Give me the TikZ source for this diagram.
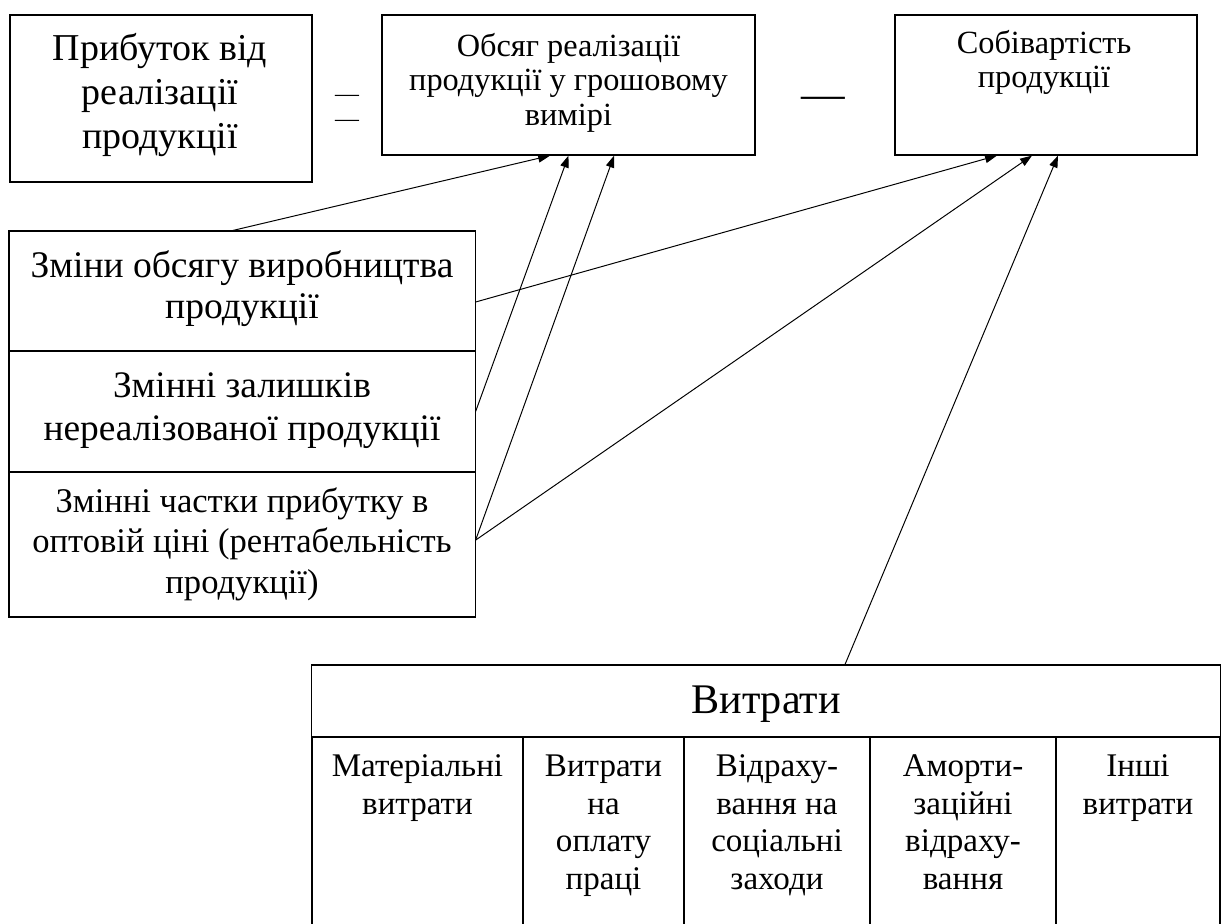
\documentclass[tikz,border=0pt]{standalone}
\usepackage{fontspec}
\setmainfont{Liberation Serif}
\usetikzlibrary{arrows.meta}

\begin{document}
\begin{tikzpicture}[x=0.025cm, y=-0.025cm,
    box/.style={draw, rectangle, line width=0.8pt, inner sep=0pt},
    napys/.style={align=center, inner sep=0pt, anchor=base},
    strilka/.style={-{Triangle[length=8.5pt, width=6pt]}, line width=0.7pt}]
\useasboundingbox (0,0) rectangle (1224,923);

% verkhnii riadok
\node (prybutok)[box, minimum width=7.55cm, minimum height=4.175cm] at (161,98.5) {};
\node (prybutoktext)[napys, font=\fontsize{27}{31}\selectfont] at (160,148) {Прибуток від\\реалізації\\продукції};
\node (rivnoverkh)[napys, font=\fontsize{17}{17}\selectfont] at (347,101.7) {—};
\node (rivnoniz)[napys, font=\fontsize{17}{17}\selectfont] at (347,126.7) {—};
\node (obsyah)[box, minimum width=9.325cm, minimum height=3.5cm] at (568.5,85) {};
\node (obsyahtext)[napys, font=\fontsize{23}{24.5}\selectfont] at (568.5,125) {Обсяг реалізації\\продукції у грошовому\\вимірі};
\node (minus)[napys, font=\fontsize{31}{31}\selectfont] at (823,108) {—};
\node (sobivart)[box, minimum width=7.55cm, minimum height=3.5cm] at (1046,85) {};
\node (sobivarttext)[napys, font=\fontsize{23}{23.5}\selectfont] at (1044,87) {Собівартість\\продукції};

% chynnyky
\node (rowone)[box, minimum width=11.65cm, minimum height=3cm] at (242,291) {};
\node (rowonetext)[napys, font=\fontsize{26.7}{29}\selectfont] at (242,318) {Зміни обсягу виробництва\\продукції};
\node (rowtwo)[box, minimum width=11.65cm, minimum height=3.025cm] at (242,411.5) {};
\node (rowtwotext)[napys, font=\fontsize{26.6}{30.5}\selectfont] at (242,440) {Змінні залишків\\нереалізованої продукції};
\node (rowthree)[box, minimum width=11.65cm, minimum height=3.625cm] at (242,544.5) {};
\node (rowthreetext)[napys, font=\fontsize{24.6}{28.5}\selectfont] at (242,593) {Змінні частки прибутку в\\оптовій ціні (рентабельність\\продукції)};

% vytraty
\node (vytraty)[box, minimum width=22.7cm, minimum height=1.8cm] at (766,701) {};
\node (vytratytext)[napys, font=\fontsize{30}{30}\selectfont] at (766,713) {Витрати};
\node (material)[box, minimum width=5.275cm, minimum height=5.325cm] at (417.5,843.5) {};
\node (oplata)[box, minimum width=4.025cm, minimum height=5.325cm] at (603.5,843.5) {};
\node (socialni)[box, minimum width=4.65cm, minimum height=5.325cm] at (777,843.5) {};
\node (amort)[box, minimum width=4.65cm, minimum height=5.325cm] at (963,843.5) {};
\node (inshi)[box, minimum width=4.1cm, minimum height=5.325cm] at (1138,843.5) {};
\node (materialtext)[napys, font=\fontsize{23.5}{26.7}\selectfont] at (417.5,814.5) {Матеріальні\\витрати};
\node (oplatatext)[napys, font=\fontsize{23.5}{26.7}\selectfont] at (603.5,889.5) {Витрати\\на\\оплату\\праці};
\node (socialnitext)[napys, font=\fontsize{23.5}{26.7}\selectfont] at (777,889.5) {Відраху-\\вання на\\соціальні\\заходи};
\node (amorttext)[napys, font=\fontsize{23.5}{26.7}\selectfont] at (963,889.5) {Аморти-\\заційні\\відраху-\\вання};
\node (inshitext)[napys, font=\fontsize{23.5}{26.7}\selectfont] at (1138,814.5) {Інші\\витрати};

\draw[strilka] ([xshift=-0.225cm]rowone.north) -- ([xshift=-0.46cm]obsyah.south);
\draw[strilka] (rowtwo.east) -- (obsyah.south);
\draw[strilka] ([yshift=0.11cm]rowthree.east) -- ([xshift=1.14cm]obsyah.south);
\draw[strilka] ([yshift=-0.275cm]rowone.east) -- ([xshift=-1.225cm]sobivart.south);
\draw[strilka] ([yshift=0.11cm]rowthree.east) -- ([xshift=-0.35cm]sobivart.south);
\draw[strilka] ([xshift=1.975cm]vytraty.north) -- ([xshift=0.3cm]sobivart.south);

\end{tikzpicture}
\end{document}
